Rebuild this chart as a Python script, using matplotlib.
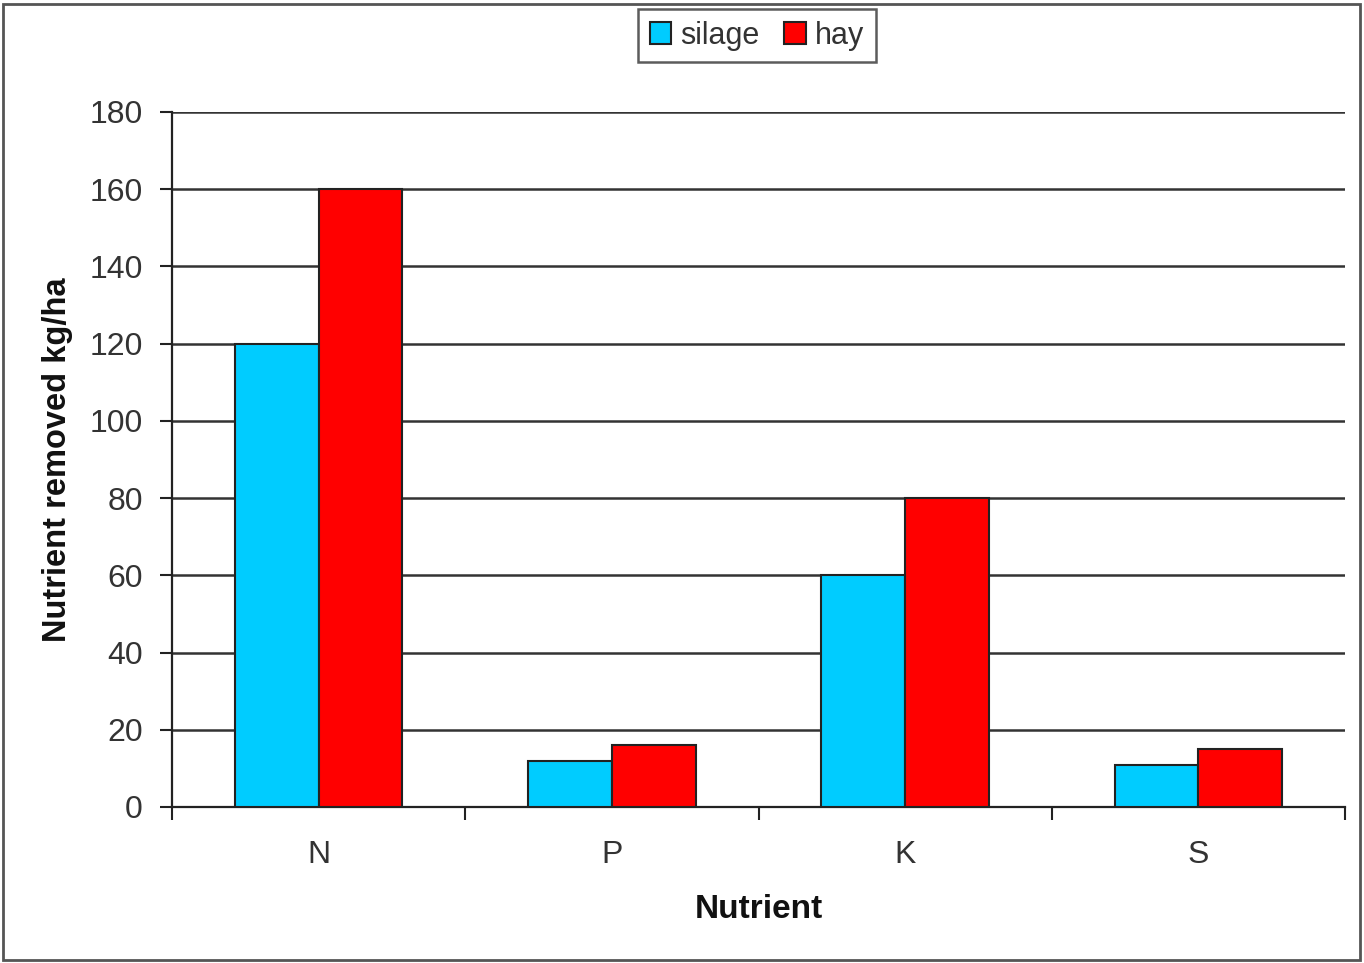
import numpy as np
import matplotlib.pyplot as plt
from matplotlib.patches import Rectangle

plt.rcParams['font.family'] = ['Liberation Sans', 'DejaVu Sans']

# nutrient removal by crop type
nutrients = ['N', 'P', 'K', 'S']
silage = [120, 12, 60, 11]
hay = [160, 16, 80, 15]
yticks = [0, 20, 40, 60, 80, 100, 120, 140, 160, 180]

fig = plt.figure(figsize=(13.64, 9.63), dpi=100)
ax = fig.add_axes([0.1261, 0.162, 0.860, 0.7217])

x = np.arange(len(nutrients))
w = 1 / 3.5
ax.bar(x - w / 2, silage, w, color='#00ccff', edgecolor='#222222', linewidth=1.5, label='silage', zorder=3)
ax.bar(x + w / 2, hay, w, color='#ff0000', edgecolor='#222222', linewidth=1.5, label='hay', zorder=3)

ax.set_xlim(-0.5, len(nutrients) - 0.5)
ax.set_ylim(0, 180)
ax.set_yticks(yticks)
ax.set_yticklabels([str(v) for v in yticks])
ax.yaxis.grid(True, color='#333333', linewidth=1.8, zorder=0)
ax.set_axisbelow(True)

# category ticks sit between groups, labels in the middle
ax.set_xticks(np.arange(-0.5, len(nutrients)), minor=False)
ax.set_xticklabels([])
ax.set_xticks(x, minor=True)
ax.set_xticklabels(nutrients, minor=True)
ax.tick_params(axis='x', which='minor', length=0, pad=24, labelsize=23, labelcolor='#333333')
ax.tick_params(axis='x', which='major', length=9, width=1.5, direction='out', color='#222222')
ax.tick_params(axis='y', length=9, width=1.5, direction='out', labelsize=23,
               labelcolor='#333333', color='#222222', pad=12)

for side in ['top', 'right']:
    ax.spines[side].set_visible(False)
for side in ['left', 'bottom']:
    ax.spines[side].set_color('#222222')
    ax.spines[side].set_linewidth(1.6)

ax.set_xlabel('Nutrient', fontsize=24, fontweight='bold', labelpad=17, color='#111111')
ax.set_ylabel('Nutrient removed kg/ha', fontsize=23.5, fontweight='bold', labelpad=12, color='#111111')

leg = ax.legend(loc='upper center', bbox_to_anchor=(0.4987, 1.17), ncol=2, fontsize=22,
                frameon=True, fancybox=False, edgecolor='#333333', handlelength=0.7,
                handleheight=0.7, handletextpad=0.3, columnspacing=0.8, borderpad=0.38)
leg.get_frame().set_linewidth(1.8)
for t in leg.get_texts():
    t.set_color('#333333')

# outer chart border
fig.patches.append(Rectangle((0.002, 0.003), 0.995, 0.993, transform=fig.transFigure,
                             fill=False, edgecolor='#555555', linewidth=2))

fig.savefig('out.png', dpi=100)
